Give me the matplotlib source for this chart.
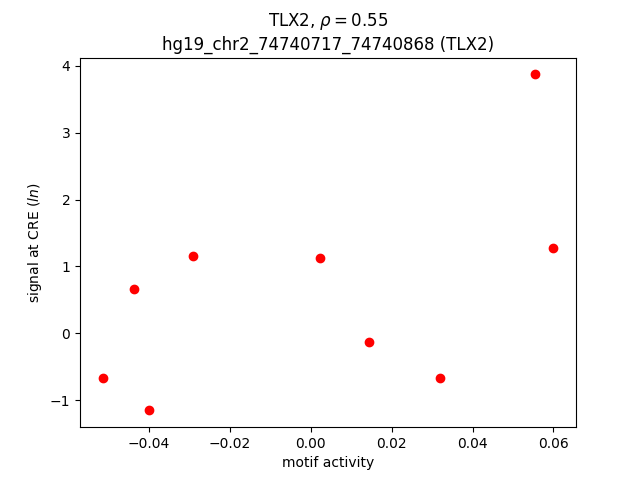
import matplotlib
matplotlib.use('Agg')
import matplotlib.pyplot as plt

motif_activity = [-0.0515, -0.0436, -0.0401, -0.0292, 0.0022, 0.0144, 0.0319, 0.0554, 0.0600]
signal = [-0.67, 0.66, -1.15, 1.15, 1.12, -0.13, -0.67, 3.87, 1.28]

fig = plt.figure(figsize=(6.4, 4.8), dpi=100)
plt.scatter(motif_activity, signal, c='r', s=36, zorder=3)
plt.xlabel('motif activity')
plt.ylabel('signal at CRE ($ln$)')
plt.title('TLX2, $\\rho=$0.55\nhg19_chr2_74740717_74740868 (TLX2)')
plt.savefig('out.png')
